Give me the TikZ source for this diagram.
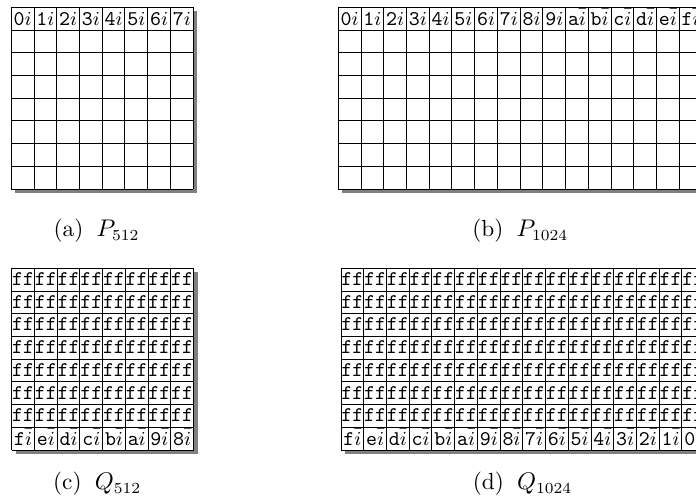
\documentclass[tikz,border=0pt]{standalone}
\tikzset{
  gridline/.style={line width=0.45pt, black},
  shadowfill/.style={fill=black!50},
  celltext/.style={inner sep=0pt, anchor=base, font=\fontsize{9.5}{10}\selectfont\ttfamily},
  captext/.style={inner sep=0pt, anchor=base, font=\fontsize{10.6}{12}\selectfont}
}
\newcommand{\mygrid}[3]{% x0, y0, ncols
  \pgfmathsetmacro{\gx}{#1+#3*22.73}
  \pgfmathsetmacro{\gy}{#2+8*22.73}
  \fill[shadowfill] (#1+4,#2+4) rectangle (\gx+4,\gy+4);
  \fill[white] (#1,#2) rectangle (\gx,\gy);
  \foreach \k in {0,...,8} \draw[gridline] (#1,#2+\k*22.73) -- (\gx,#2+\k*22.73);
  \foreach \k in {0,...,#3} \draw[gridline] (#1+\k*22.73,#2) -- (#1+\k*22.73,\gy);
}
\begin{document}
\begin{tikzpicture}[x=0.4545pt,y=-0.4545pt]
\useasboundingbox (0,0) rectangle (696,501);
\clip (0,0) rectangle (696,501);
\fill[white] (0,0) rectangle (696,501);

% ---- (a) P512
\mygrid{11.3}{7.3}{8}
\foreach \c [count=\n from 0] in {0,...,7}
  \node[celltext] (pa-\n) at (11.3+\n*22.73+11.37, 7.3+22.73-5) {\c$i$};

% ---- (b) P1024
\mygrid{338.3}{7.3}{16}
\foreach \c [count=\n from 0] in {0,...,9}
  \node[celltext] (pb-\n) at (338.3+\n*22.73+11.37, 7.3+22.73-5) {\c$i$};
\foreach \c [count=\n from 10] in {a,b,c,d,e,f}
  \node[celltext] (pb-\n) at (338.3+\n*22.73+11.37, 7.3+22.73-5) {\c$\bar{i}$};

% ---- (c) Q512
\mygrid{11.7}{268.3}{8}
\foreach \r in {0,...,6}
  \foreach \n in {0,...,7}
    \node[celltext] (qc-\r-\n) at (11.7+\n*22.73+11.37, 268.3+\r*22.73+22.73-5.5) {ff};
\foreach \c [count=\n from 0] in {f,e,d,c,b,a,9,8}
  \node[celltext] (qc-7-\n) at (11.7+\n*22.73+11.37, 268.3+7*22.73+22.73-5) {\c$\bar{i}$};

% ---- (d) Q1024
\mygrid{341}{268.3}{16}
\foreach \r in {0,...,6}
  \foreach \n in {0,...,15}
    \node[celltext] (qd-\r-\n) at (341+\n*22.73+11.37, 268.3+\r*22.73+22.73-5.5) {ff};
\foreach \c [count=\n from 0] in {f,e,d,c,b,a,9,8,7,6,5,4,3,2,1,0}
  \node[celltext] (qd-7-\n) at (341+\n*22.73+11.37, 268.3+7*22.73+22.73-5) {\c$\bar{i}$};

% ---- captions
\node[captext] (capa) at (96.5,236.5) {(a)\hspace{6pt}$P_{512}$};
\node[captext] (capb) at (520.3,236.5) {(b)\hspace{6pt}$P_{1024}$};
\node[captext] (capc) at (97.2,489.5) {(c)\hspace{6pt}$Q_{512}$};
\node[captext] (capd) at (522.6,489.5) {(d)\hspace{6pt}$Q_{1024}$};
\end{tikzpicture}
\end{document}
